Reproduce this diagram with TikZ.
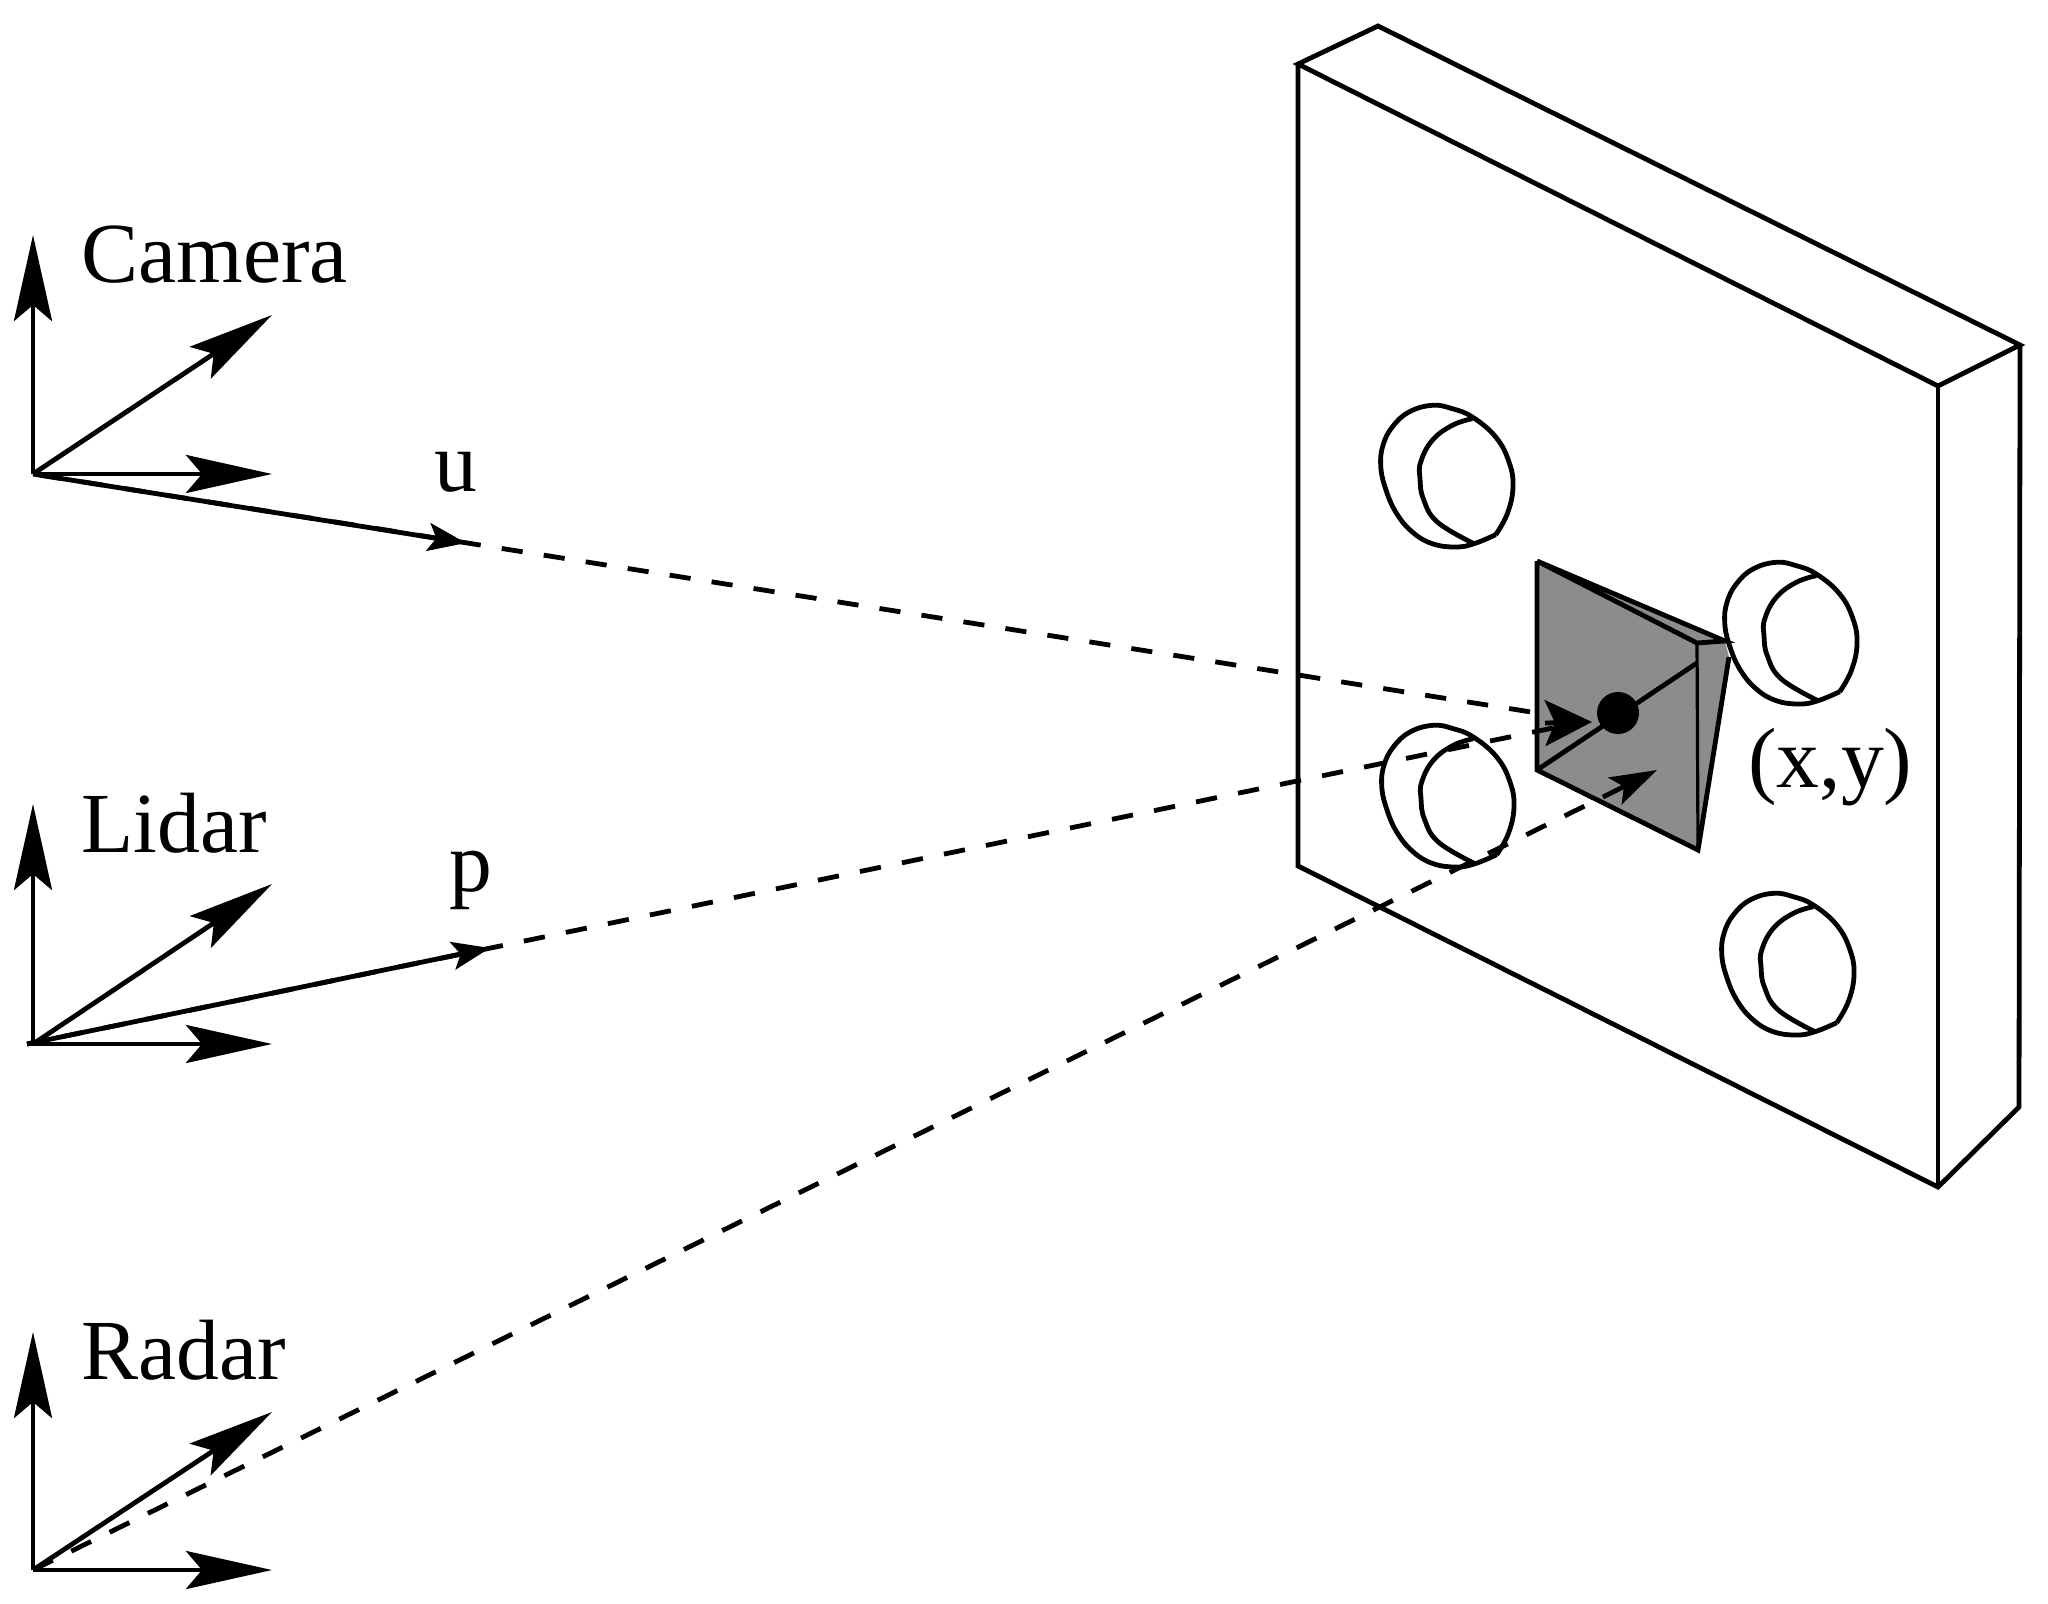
\documentclass[tikz,border=0pt]{standalone}
\usepackage{fontspec}
\setmainfont{Liberation Serif}
\usetikzlibrary{arrows.meta}
\definecolor{facegray}{HTML}{8C8C8C}
\tikzset{
  x=0.5pt,y=-0.5pt,
  edge/.style={line width=2.4pt,line join=miter},
  axisline/.style={line width=2.4pt,-{Stealth[length=43pt,width=19pt,inset=8pt]}},
  rayhead/.style={line width=2.4pt,-{Stealth[length=19pt,width=14pt,inset=4pt]}},
  bighead/.style={line width=2.4pt,-{Stealth[length=23.5pt,width=23pt,inset=5pt]}},
  medhead/.style={line width=2.4pt,-{Stealth[length=23.5pt,width=15pt,inset=5pt]}},
  label/.style={font=\fontsize{42.8}{47}\selectfont,anchor=base west,inner sep=0pt},
  holeline/.style={line width=2.4pt,line join=round},
}
\newcommand{\drawhole}[2]{%
  \begin{scope}[shift={(#1,#2)}]
    \draw[holeline] plot[smooth,tension=0.7] coordinates {(1836.7,1022.7) (1848.3,1001.7) (1854,975) (1850,950) (1836.7,925) (1813.3,905) (1793.3,896.7) (1773.3,893.3) (1750,900) (1733.3,915) (1724,933.3) (1721.7,953.3) (1726,975) (1736.7,1000) (1753.3,1020) (1773.3,1031.7) (1796.7,1035) (1815,1031.7) (1836.7,1022.7)};
    \draw[holeline] plot[smooth,tension=0.7] coordinates {(1813.3,906.7) (1793.3,913.3) (1773.3,928.3) (1761.7,950) (1761,966.7) (1764.3,986.7) (1778.3,1010) (1815,1031.7)};
  \end{scope}}
\begin{document}
\begin{tikzpicture}
\useasboundingbox (0,0) rectangle (2048,1604);
% slab
\coordinate (s1) at (1298,64);
\coordinate (s2) at (1378,26);
\coordinate (s3) at (2020,345);
\coordinate (s4) at (1938,386);
\coordinate (s5) at (1298,866);
\coordinate (s6) at (1938,1187);
\coordinate (s7) at (2019,1107);
\draw[edge] (s1) -- (s2) -- (s3) -- (s4) -- cycle;
\draw[edge] (s1) -- (s5) -- (s6) -- (s7) -- (s3);
\draw[edge] (s4) -- (s6);
% target
\coordinate (t1) at (1537,561);
\coordinate (t2) at (1537,770);
\coordinate (t3) at (1698,850);
\coordinate (t4) at (1697,643);
\coordinate (t5) at (1725,641);
\coordinate (t6) at (1729,657);
\coordinate (t7) at (1697,663);
\fill[facegray] (t1) -- (t5) -- (t6) -- (t3) -- (t2) -- cycle;
\draw[edge] (t1) -- (t2) -- (t3) -- (t6);
\draw[edge] (t1) -- (t5) -- (t4) -- cycle;
\draw[line width=1.6pt] (t4) -- (t3);
\draw[edge] (t2) -- (t7);
\node[circle,fill=black,inner sep=0pt,minimum size=21pt] (dot) at (1618,713) {};
% holes
\drawhole{-341}{-488}
\drawhole{3}{-331}
\drawhole{-340}{-168}
\drawhole{0}{0}
% camera frame
\coordinate (co) at (33,474);
\coordinate (cz) at (33,235);
\coordinate (cd) at (272,315);
\coordinate (cx) at (272,474);
\draw[axisline] (co) -- (cz);
\draw[axisline] (co) -- (cd);
\draw[axisline] (co) -- (cx);
% lidar frame
\coordinate (lo) at (33,1044);
\coordinate (lz) at (33,804);
\coordinate (ld) at (272,884);
\coordinate (lx) at (272,1044);
\coordinate (lr) at (27,1044);
\draw[axisline] (lo) -- (lz);
\draw[axisline] (lo) -- (ld);
\draw[axisline] (lr) -- (lx);
% radar frame
\coordinate (ro) at (33,1570);
\coordinate (rz) at (33,1332);
\coordinate (rd) at (272,1412);
\coordinate (rx) at (272,1570);
\draw[axisline] (ro) -- (rz);
\draw[axisline] (ro) -- (rd);
\draw[axisline] (ro) -- (rx);
% rays
\coordinate (cu) at (466,543);
\coordinate (cend) at (1531,712);
\coordinate (lp) at (490,948);
\coordinate (lend) at (1553,728);
\coordinate (rend) at (1603,797);
\coordinate (bigback) at (1545,723);
\coordinate (bigtip) at (1592,722);
\coordinate (medtip) at (1657,770);
\draw[rayhead] (co) -- (cu);
\draw[rayhead] (lr) -- (lp);
\draw[line width=2.4pt,dash pattern=on 10.6pt off 10.65pt,dash phase=17.7pt] (co) -- (cend);
\draw[line width=2.4pt,dash pattern=on 10.7pt off 10.75pt,dash phase=3.7pt] (lr) -- (lend);
\draw[line width=2.4pt,dash pattern=on 11pt off 10.34pt] (ro) -- (rend);
\draw[bighead] (bigback) -- (bigtip);
\draw[medhead] (rend) -- (medtip);
% labels
\node[label] (camera) at (81,283) {Camera};
\node[label] (lidar) at (81,852) {Lidar};
\node[label] (radar) at (81,1379) {Radar};
\node[label] (u) at (434,491) {u};
\node[label] (p) at (449,891) {p};
\node[label] (xy) at (1748,787) {(x,y)};
\end{tikzpicture}
\end{document}
